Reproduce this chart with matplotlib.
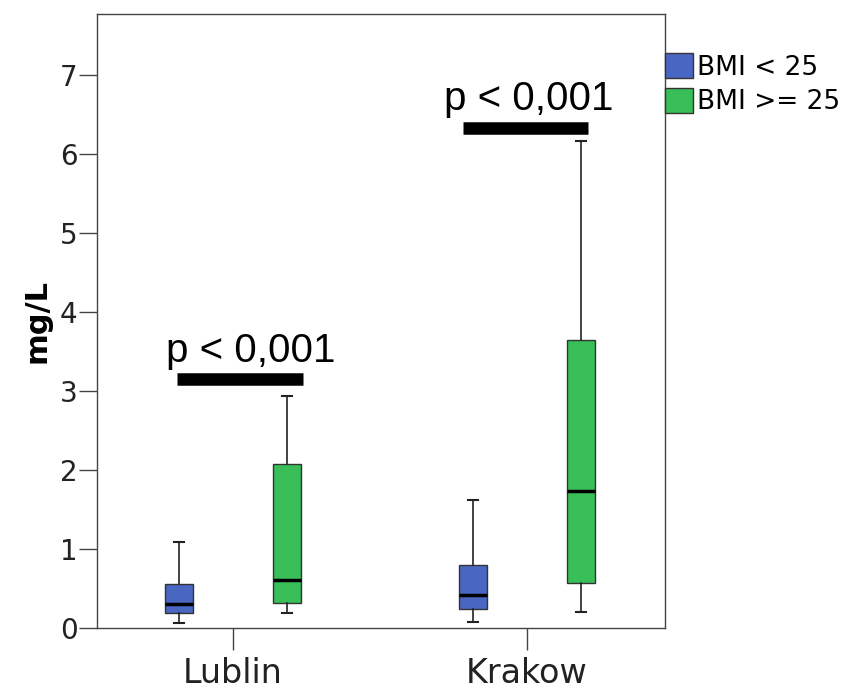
import matplotlib
matplotlib.use("Agg")
import matplotlib.pyplot as plt
from matplotlib.patches import Patch

categories = ["Lublin", "Krakow"]
groups = ["BMI < 25", "BMI >= 25"]
# per category, per group: whislo, q1, med, q3, whishi
lublin_low = [0.06, 0.19, 0.31, 0.56, 1.09]
lublin_high = [0.19, 0.32, 0.61, 2.08, 2.94]
krakow_low = [0.08, 0.24, 0.42, 0.80, 1.62]
krakow_high = [0.20, 0.57, 1.73, 3.65, 6.16]
sig_text = "p < 0,001"
sig_bar_y = [3.15, 6.33]
sig_bar_x = [(-0.190, 0.238), (-0.218, 0.207)]
sig_text_dx = [0.061, 0.007]
colors = ["#4866c2", "#38bf57"]

fig = plt.figure(figsize=(8.57, 6.9), dpi=100)
ax = fig.add_axes([97/857, 1-628/690, (665-97)/857, (628-14)/690])

data = {0: [lublin_low, lublin_high], 1: [krakow_low, krakow_high]}
offset = 0.184
width = 0.095
stats = []
positions = []
facecols = []
for ci in range(len(categories)):
    for gi in range(2):
        lo, q1, med, q3, hi = data[ci][gi]
        stats.append(dict(whislo=lo, q1=q1, med=med, q3=q3, whishi=hi, fliers=[]))
        positions.append(ci + 1 + (offset if gi else -offset))
        facecols.append(colors[gi])

bp = ax.bxp(stats, positions=positions, widths=width, patch_artist=True,
            showfliers=False, capwidths=0.034,
            boxprops=dict(edgecolor="#333333", linewidth=1.0),
            whiskerprops=dict(color="#222222", linewidth=1.2),
            capprops=dict(color="#222222", linewidth=1.5),
            medianprops=dict(color="black", linewidth=2.5))
for patch, c in zip(bp["boxes"], facecols):
    patch.set_facecolor(c)

# significance bars
for ci in range(len(categories)):
    x0 = ci + 1 + sig_bar_x[ci][0]
    x1 = ci + 1 + sig_bar_x[ci][1]
    ax.plot([x0, x1], [sig_bar_y[ci], sig_bar_y[ci]], color="black", linewidth=9,
            solid_capstyle="butt")
    ax.text(ci + 1 + sig_text_dx[ci], sig_bar_y[ci] + 0.12, sig_text,
            ha="center", va="bottom", fontsize=29, family="Liberation Sans")

ax.set_xlim(0.537, 2.469)
ax.set_ylim(0, 7.77)
ax.set_xticks([1, 2])
ax.set_xticklabels(categories, fontsize=24, color="#222222")
ax.set_yticks(range(0, 8))
ax.set_yticklabels([str(i) for i in range(0, 8)], fontsize=20, color="#222222")
ax.tick_params(axis="y", length=13, width=1, color="#444444", pad=1)
ax.tick_params(axis="x", length=16, width=1, color="#444444", pad=5)
ax.set_ylabel("mg/L", fontsize=22, fontweight="bold", labelpad=6)
for s in ax.spines.values():
    s.set_color("#444444")
    s.set_linewidth(1.0)

handles = [Patch(facecolor=colors[i], edgecolor="#333333", label=groups[i]) for i in range(2)]
fig.legend(handles=handles, loc="upper left", bbox_to_anchor=(665/857, 1-53/690),
           frameon=False, fontsize=19, handlelength=1.06, handleheight=1.1,
           handletextpad=0.15, borderaxespad=0, borderpad=0, labelspacing=0.26)

fig.savefig("out.png", dpi=100)
